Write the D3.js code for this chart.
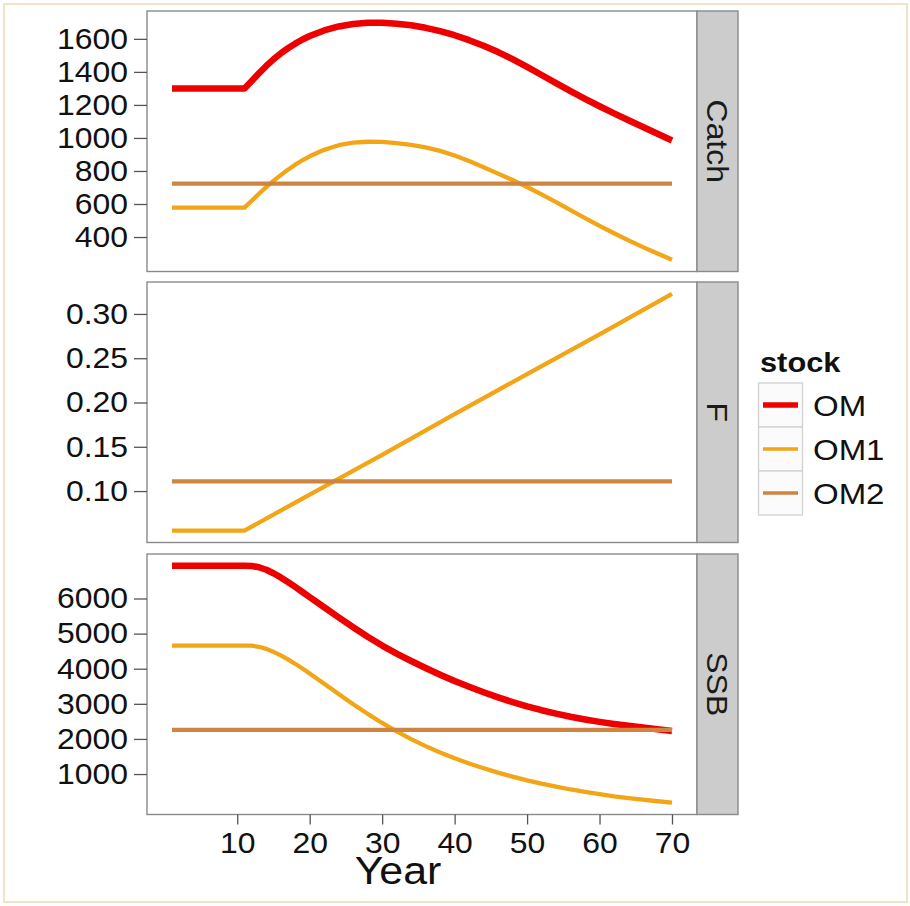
<!DOCTYPE html>
<html><head><meta charset="utf-8">
<script src="https://cdn.jsdelivr.net/npm/d3@7"></script>
<style>body{margin:0;background:#fff}svg{display:block}</style>
</head><body>
<svg id="c" width="910" height="906"></svg>
<script>
// ---------------- data ----------------
const stocks = ["OM", "OM1", "OM2"];
const panels = ["Catch", "F", "SSB"];
const xTicks = [10, 20, 30, 40, 50, 60, 70];
const catchTicks = [400, 600, 800, 1000, 1200, 1400, 1600];
const fTicks = [0.10, 0.15, 0.20, 0.25, 0.30];
const ssbTicks = [1000, 2000, 3000, 4000, 5000, 6000];

const yearsCurve = [1, 11, 12, 13, 14, 15, 16, 17, 18, 19, 20, 22, 24, 26, 28, 30, 32, 34, 36, 38, 40, 42, 44, 46, 48, 50, 52, 54, 56, 58, 60, 62, 64, 66, 68, 70];
const yearsFlat = [1, 70];
const yearsF = [1, 11, 20, 30, 40, 50, 60, 70];

const catchOM  = [1300, 1300, 1345, 1392, 1436, 1476, 1512, 1543, 1571, 1596, 1617, 1651, 1675, 1690, 1697, 1697, 1692, 1682, 1667, 1647, 1622, 1592, 1558, 1520, 1477, 1430, 1381, 1332, 1284, 1237, 1192, 1149, 1107, 1066, 1025, 985];
const catchOM1 = [578, 578, 620, 662, 702, 740, 775, 808, 838, 865, 889, 928, 956, 972, 977, 976, 969, 958, 943, 922, 894, 860, 823, 784, 745, 703, 658, 611, 563, 515, 468, 423, 380, 339, 300, 263];
const catchOM2 = [724, 724];

const fOM1 = [0.0553, 0.0553, 0.096, 0.141, 0.187, 0.232, 0.277, 0.3227];
const fOM2 = [0.111, 0.111];

const ssbOM  = [6930, 6930, 6925, 6890, 6820, 6720, 6600, 6470, 6330, 6185, 6040, 5750, 5460, 5180, 4910, 4660, 4430, 4220, 4020, 3830, 3650, 3485, 3330, 3185, 3050, 2928, 2818, 2720, 2632, 2555, 2487, 2427, 2373, 2323, 2275, 2225];
const ssbOM1 = [4660, 4660, 4655, 4625, 4565, 4480, 4380, 4265, 4140, 4005, 3865, 3575, 3280, 2990, 2715, 2455, 2215, 1995, 1795, 1615, 1450, 1300, 1165, 1040, 925, 820, 725, 640, 560, 490, 425, 365, 315, 270, 225, 185];
const ssbOM2 = [2256, 2256];

// ---------------- layout & style ----------------
const colors = {OM: "#EE0000", OM1: "#F2A516", OM2: "#CD853F"};
const widths = {OM: 6.5, OM1: 4.3, OM2: 4.3};
const L = 147, R = 697, SR = 738;
const tops = [11, 282, 554], PH = 260.5;
const SX = 1.1; // horizontal stretch of text
const font = "'Liberation Sans', Arial, Helvetica, sans-serif";

const panelData = [
  {name: "Catch", ticks: catchTicks, fmt: d3.format("d"),
   series: [{s: "OM", x: yearsCurve, y: catchOM}, {s: "OM1", x: yearsCurve, y: catchOM1}, {s: "OM2", x: yearsFlat, y: catchOM2}]},
  {name: "F", ticks: fTicks, fmt: d3.format(".2f"),
   series: [{s: "OM1", x: yearsF, y: fOM1}, {s: "OM2", x: yearsFlat, y: fOM2}]},
  {name: "SSB", ticks: ssbTicks, fmt: d3.format("d"),
   series: [{s: "OM", x: yearsCurve, y: ssbOM}, {s: "OM1", x: yearsCurve, y: ssbOM1}, {s: "OM2", x: yearsFlat, y: ssbOM2}]}
];

const svg = d3.select("#c");
svg.append("rect").attr("x", 4).attr("y", 4).attr("width", 903).attr("height", 898)
  .attr("fill", "#fff").attr("stroke", "#f2e3c6").attr("stroke-width", 2);

const allYears = yearsCurve.concat(yearsFlat, yearsF);
const xe = d3.extent(allYears), xpad = (xe[1] - xe[0]) * 0.05;
const x = d3.scaleLinear().domain([xe[0] - xpad, xe[1] + xpad]).range([L, R]);

function stretch(sel) {
  sel.each(function () {
    const t = d3.select(this);
    const tx = +t.attr("x") || 0;
    t.attr("transform", `translate(${tx},0) scale(${SX},1) translate(${-tx},0)`);
  });
}

panelData.forEach((p, i) => {
  const top = tops[i], bot = top + PH;
  const vals = p.series.flatMap(s => s.y);
  const e = d3.extent(vals), pad = (e[1] - e[0]) * 0.05;
  const y = d3.scaleLinear().domain([e[0] - pad, e[1] + pad]).range([bot, top]);
  const g = svg.append("g");

  g.append("rect").attr("x", L).attr("y", top).attr("width", R - L).attr("height", PH)
    .attr("fill", "#fff");

  const line = d3.line().x(d => x(d[0])).y(d => y(d[1]));
  const cp = "clip" + i;
  svg.append("clipPath").attr("id", cp).append("rect")
    .attr("x", L).attr("y", top).attr("width", R - L).attr("height", PH);
  p.series.forEach(s => {
    g.append("path").attr("clip-path", `url(#${cp})`)
      .attr("d", line(s.x.map((xx, k) => [xx, s.y[k]])))
      .attr("fill", "none").attr("stroke", colors[s.s]).attr("stroke-width", widths[s.s])
      .attr("stroke-linecap", "butt").attr("stroke-linejoin", "round");
  });

  g.append("rect").attr("x", L).attr("y", top).attr("width", R - L).attr("height", PH)
    .attr("fill", "none").attr("stroke", "#8a8a8a").attr("stroke-width", 1.4);

  // y axis
  const ya = g.append("g").attr("transform", `translate(${L},0)`)
    .call(d3.axisLeft(y).tickValues(p.ticks).tickFormat(p.fmt).tickSize(13).tickPadding(6));
  ya.select(".domain").remove();
  ya.selectAll(".tick line").attr("stroke", "#555").attr("stroke-width", 1.3);
  ya.selectAll(".tick text").attr("font-family", font).attr("font-size", 29).attr("fill", "#111");
  stretch(ya.selectAll(".tick text"));

  // strip
  g.append("rect").attr("x", R).attr("y", top).attr("width", SR - R).attr("height", PH)
    .attr("fill", "#cccccc").attr("stroke", "#8a8a8a").attr("stroke-width", 1.4);
  g.append("text").attr("transform", `translate(${(R + SR) / 2},${top + PH / 2}) rotate(90) scale(${SX},1)`)
    .attr("text-anchor", "middle").attr("dy", "0.36em")
    .attr("font-family", font).attr("font-size", 29).attr("fill", "#1a1a1a").text(p.name);

  if (i === 2) {
    const xa = g.append("g").attr("transform", `translate(0,${bot})`)
      .call(d3.axisBottom(x).tickValues(xTicks).tickFormat(d3.format("d")).tickSize(10).tickPadding(8));
    xa.select(".domain").remove();
    xa.selectAll(".tick line").attr("stroke", "#555").attr("stroke-width", 1.3);
    xa.selectAll(".tick text").attr("font-family", font).attr("font-size", 29).attr("fill", "#111");
    stretch(xa.selectAll(".tick text"));
  }
});

// x title
svg.append("text").attr("transform", `translate(398,884) scale(${SX},1)`).attr("text-anchor", "middle")
  .attr("font-family", font).attr("font-size", 39).attr("fill", "#111").text("Year");

// legend
const lg = svg.append("g");
lg.append("text").attr("transform", `translate(760,372) scale(${SX},1)`)
  .attr("font-family", font).attr("font-size", 28).attr("font-weight", "bold").attr("fill", "#111").text("stock");
stocks.forEach((s, k) => {
  const ky = 383 + k * 44;
  lg.append("rect").attr("x", 758.5).attr("y", ky).attr("width", 44).attr("height", 44)
    .attr("fill", "#fbfbfb").attr("stroke", "#d2d2d2").attr("stroke-width", 1.3);
  lg.append("line").attr("x1", 763).attr("x2", 798).attr("y1", ky + 22).attr("y2", ky + 22)
    .attr("stroke", colors[s]).attr("stroke-width", widths[s] * 0.85);
  lg.append("text").attr("transform", `translate(813,${ky + 22}) scale(${SX},1)`).attr("dy", "0.36em")
    .attr("font-family", font).attr("font-size", 30).attr("fill", "#111").text(s);
});
</script>
</body></html>
